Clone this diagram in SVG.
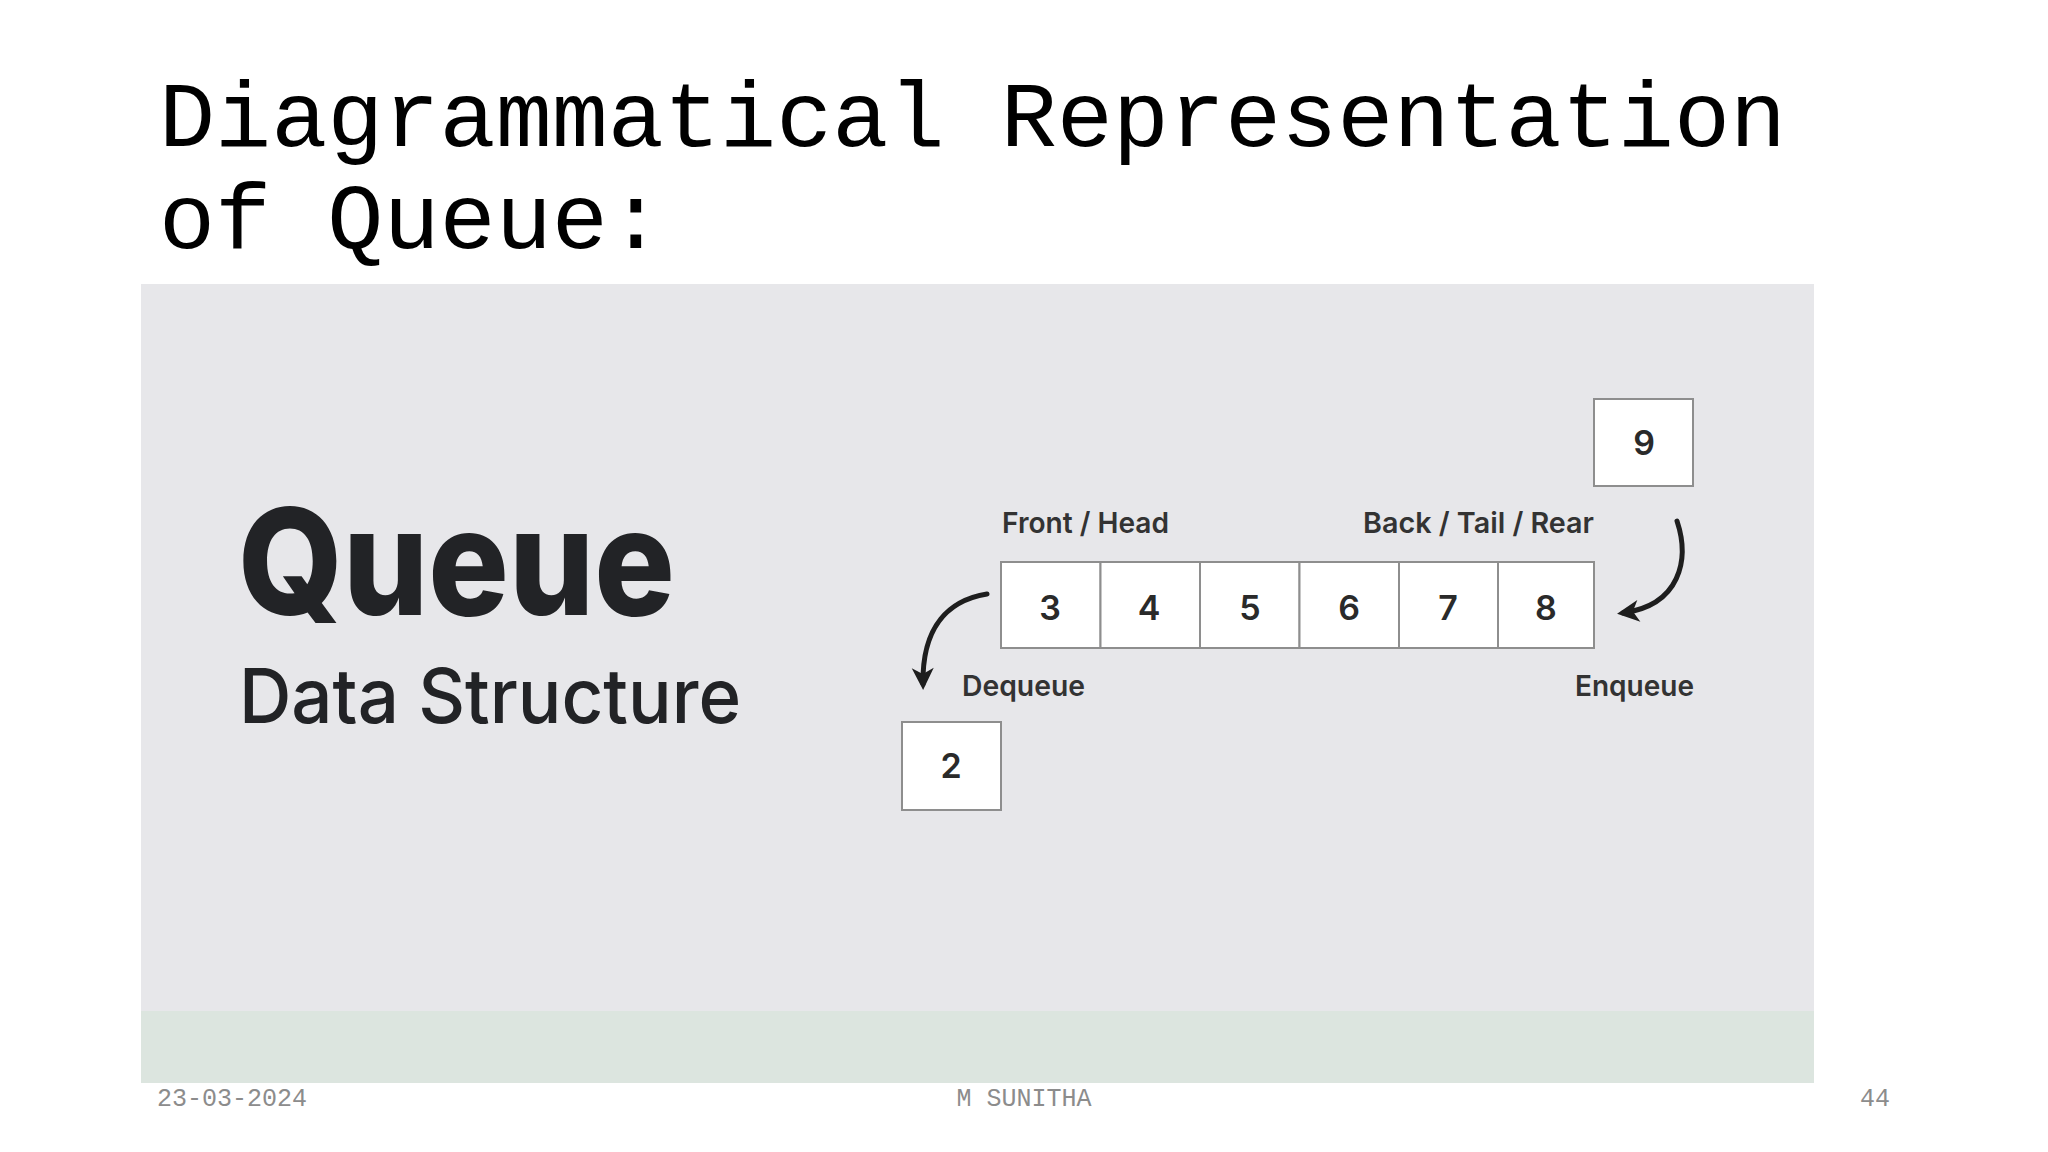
<svg xmlns="http://www.w3.org/2000/svg" width="2048" height="1152" viewBox="0 0 2048 1152">
<style>
.title{font-family:"Courier New","Nimbus Mono PS","FreeMono","Liberation Mono",monospace;font-size:93.5px;fill:#000}
.foot{font-family:"Courier New","Nimbus Mono PS","Liberation Mono",monospace;font-size:25px;fill:#8c8c8c}
.big{font-family:Inter,"Noto Sans",sans-serif;font-weight:800;fill:#222326}
.sub{font-family:Inter,"Noto Sans",sans-serif;font-weight:500;fill:#222326}
.lbl{font-family:Inter,"Noto Sans",sans-serif;font-weight:600;font-size:29px;fill:#333}
.dig{font-family:Inter,"Noto Sans",sans-serif;font-weight:600;font-size:34px;fill:#2a2a2a;text-anchor:middle}
.cell{fill:#fff;stroke:#8e8e8e;stroke-width:2}
.arr{fill:none;stroke:#1e1e1e;stroke-width:5;stroke-linecap:round}
</style>
<defs>
<marker id="ah" viewBox="-18 -13 26 26" markerWidth="26" markerHeight="26" refX="0" refY="0" orient="auto" markerUnits="userSpaceOnUse">
<path d="M6,0 L-16,-11 L-10,0 L-16,11 Z" fill="#1e1e1e"/>
</marker>
</defs>
<rect width="2048" height="1152" fill="#fff"/>
<text class="title" x="159" y="146">Diagrammatical Representation</text>
<text class="title" x="159" y="248">of Queue:</text>
<g id="panel">
<rect x="141" y="284" width="1673" height="799" fill="#e7e7ea"/>
<rect x="141" y="1011" width="1673" height="72" fill="#dce5df"/>
</g>
<g id="heading">
<text class="big" x="238" y="615" font-size="148" textLength="437" lengthAdjust="spacingAndGlyphs">Queue</text>
<text class="sub" x="239" y="723" font-size="76" textLength="502" lengthAdjust="spacingAndGlyphs">Data Structure</text>
</g>
<g id="queue">
<rect class="cell" x="1001" y="562" width="99.5" height="86"/>
<rect class="cell" x="1100.5" y="562" width="99.5" height="86"/>
<rect class="cell" x="1200" y="562" width="99.5" height="86"/>
<rect class="cell" x="1299.5" y="562" width="99.5" height="86"/>
<rect class="cell" x="1399" y="562" width="99" height="86"/>
<rect class="cell" x="1498" y="562" width="96" height="86"/>
<text class="dig" x="1050" y="620">3</text>
<text class="dig" x="1149" y="620">4</text>
<text class="dig" x="1250" y="620">5</text>
<text class="dig" x="1349" y="620">6</text>
<text class="dig" x="1448" y="620">7</text>
<text class="dig" x="1546" y="620">8</text>
</g>
<g id="node9">
<rect class="cell" x="1594" y="399" width="99" height="87"/>
<text class="dig" x="1644" y="455">9</text>
</g>
<g id="node2">
<rect class="cell" x="902" y="722" width="99" height="88"/>
<text class="dig" x="951" y="778">2</text>
</g>
<g id="labels">
<text class="lbl" x="1002" y="533" textLength="167" lengthAdjust="spacingAndGlyphs">Front / Head</text>
<text class="lbl" x="1363" y="533" textLength="231" lengthAdjust="spacingAndGlyphs">Back / Tail / Rear</text>
<text class="lbl" x="962" y="696" textLength="123" lengthAdjust="spacingAndGlyphs">Dequeue</text>
<text class="lbl" x="1575" y="696" textLength="119" lengthAdjust="spacingAndGlyphs">Enqueue</text>
</g>
<g id="connectors">
<path class="arr" d="M987,594 C950,600 922,625 923,684" marker-end="url(#ah)"/>
<path class="arr" d="M1677,521 C1690,560 1680,605 1623,613" marker-end="url(#ah)"/>
</g>
<g id="footer">
<text class="foot" x="157" y="1106">23-03-2024</text>
<text class="foot" x="1024" y="1106" text-anchor="middle">M SUNITHA</text>
<text class="foot" x="1890" y="1106" text-anchor="end">44</text>
</g>
</svg>
